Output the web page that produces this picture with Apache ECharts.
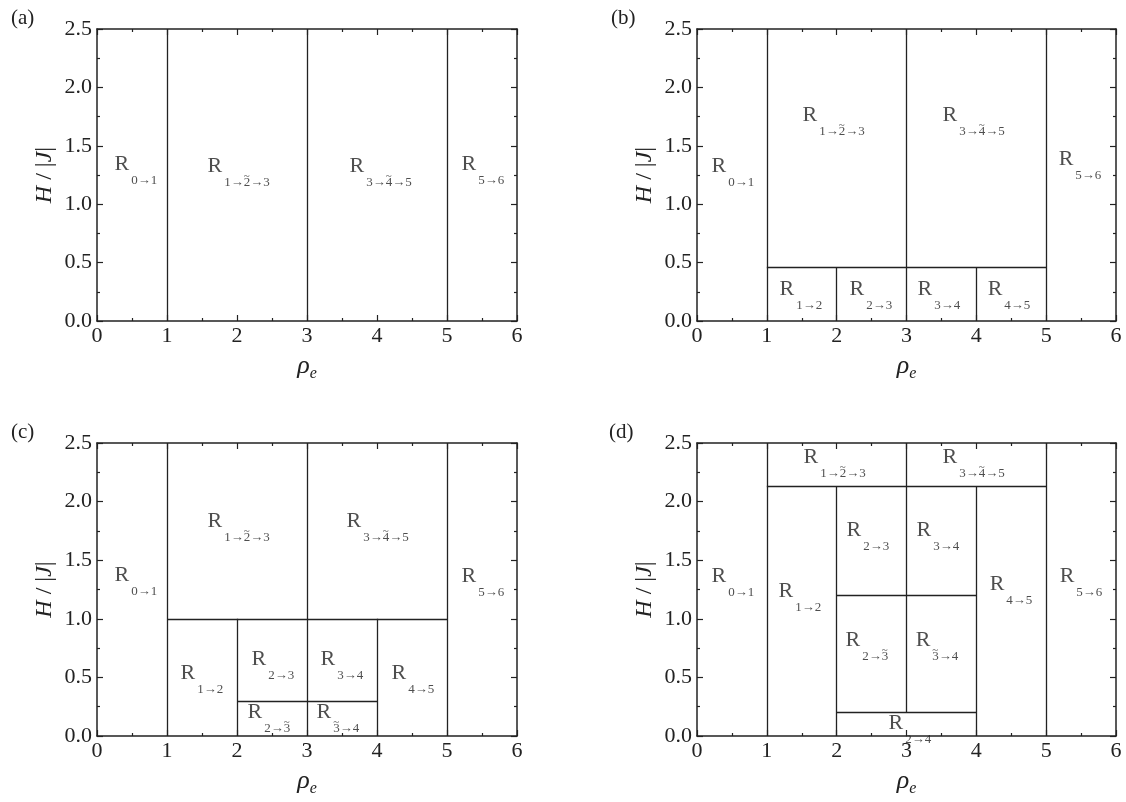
<!DOCTYPE html>
<html><head><meta charset="utf-8">
<script src="https://cdn.jsdelivr.net/npm/echarts@6/dist/echarts.min.js"></script>
<style>html,body{margin:0;padding:0;background:#fff}#c{width:1126px;height:802px}</style>
</head><body><div id="c"></div>
<script>
// ---- data ----
const xTickLabels = ['0','1','2','3','4','5','6'];
const yTickLabels = ['0.0','0.5','1.0','1.5','2.0','2.5'];
const panelNames = ['(a)','(b)','(c)','(d)'];

// vertical boundaries: [rho, H0, H1]; horizontal boundaries: [H, rho0, rho1]
const vLinesA = [[1,0,2.5],[3,0,2.5],[5,0,2.5]];
const hLinesA = [];
const vLinesB = [[1,0,2.5],[3,0,2.5],[5,0,2.5],[2,0,0.46],[4,0,0.46]];
const hLinesB = [[0.46,1,5]];
const vLinesC = [[1,0,2.5],[3,0,2.5],[5,0,2.5],[2,0,1.0],[4,0,1.0]];
const hLinesC = [[1.0,1,5],[0.3,2,4]];
const vLinesD = [[1,0,2.5],[5,0,2.5],[3,0.2,2.5],[2,0,2.13],[4,0,2.13]];
const hLinesD = [[2.13,1,5],[1.2,2,4],[0.2,2,4]];

// region labels: [rho, H, subscript]  ('~' after a digit = tilde over that digit)
const labelsA = [[0.257,1.396,'0→1'],[1.586,1.378,'1→2~→3'],[3.614,1.378,'3→4~→5'],[5.214,1.396,'5→6']];
const labelsB = [[0.215,1.378,'0→1'],[1.519,1.815,'1→2~→3'],[3.524,1.815,'3→4~→5'],[5.186,1.438,'5→6'],
  [1.189,0.325,'1→2'],[2.192,0.325,'2→3'],[3.166,0.325,'3→4'],[4.169,0.325,'4→5']];
const labelsC = [[0.257,1.425,'0→1'],[1.586,1.886,'1→2~→3'],[3.571,1.886,'3→4~→5'],[5.214,1.416,'5→6'],
  [1.2,0.589,'1→2'],[2.214,0.708,'2→3'],[3.2,0.708,'3→4'],[4.214,0.589,'4→5'],
  [2.157,0.256,'2→3~'],[3.143,0.256,'3~→4']];
const labelsD = [[0.215,1.416,'0→1'],[1.533,2.432,'1→2~→3'],[3.524,2.432,'3→4~→5'],[5.2,1.416,'5→6'],
  [1.175,1.288,'1→2'],[4.198,1.348,'4→5'],[2.149,1.809,'2→3'],[3.152,1.809,'3→4'],
  [2.135,0.870,'2→3~'],[3.138,0.870,'3~→4'],[2.751,0.162,'2→4']];

// ---- layout / style ----
const FONT = 'Liberation Serif';
const INK = '#222';
const grids = [
  {left:97, top:29, width:420, height:292},
  {left:697, top:29, width:419, height:292},
  {left:97, top:443, width:420, height:293},
  {left:697, top:443, width:419, height:293}
];
const panelPos = [[6,3],[606,3],[6,417],[604,417]];
const panels = [
  [vLinesA,hLinesA,labelsA],[vLinesB,hLinesB,labelsB],
  [vLinesC,hLinesC,labelsC],[vLinesD,hLinesD,labelsD]
];

const axisLine = {show:true, onZero:false, lineStyle:{color:INK, width:1.5}};
const tick = {show:true, inside:true, length:6, lineStyle:{color:INK, width:1.2}};
const minor = {show:true, splitNumber:2, length:3, lineStyle:{color:INK, width:1.2}};
const lblStyle = {fontFamily:FONT, fontSize:22, color:INK};

function subRich(s) {
  // turn "1→2~→3" into rich tokens, tilde drawn over the preceding digit
  let out = '';
  const chars = Array.from(s);
  for (let k = 0; k < chars.length; k++) {
    const c = chars[k];
    if (c === '~') continue;
    if (chars[k+1] === '~') out += '{t|~}';
    out += '{s|' + c + '}';
  }
  return out;
}

const xAxes = [], yAxes = [], series = [], titles = [];
grids.forEach((g, i) => {
  xAxes.push({gridIndex:i, type:'value', min:0, max:6, interval:1, position:'bottom',
    axisLine, axisTick:tick, minorTick:minor, splitLine:{show:false},
    axisLabel:Object.assign({margin:4, formatter:v => xTickLabels[Math.round(v)]}, lblStyle),
    name:'{r|ρ}{e|e}', nameLocation:'middle', nameGap:32,
    nameTextStyle:{rich:{
      r:{fontFamily:FONT, fontStyle:'italic', fontSize:26, lineHeight:26, color:INK, verticalAlign:'top'},
      e:{fontFamily:FONT, fontStyle:'italic', fontSize:16, lineHeight:16, color:INK, verticalAlign:'top', padding:[13,0,0,0]}
    }}});
  xAxes.push({gridIndex:i, type:'value', min:0, max:6, interval:1, position:'top',
    axisLine, axisTick:tick, minorTick:minor, splitLine:{show:false}, axisLabel:{show:false}});
  yAxes.push({gridIndex:i, type:'value', min:0, max:2.5, interval:0.5, position:'left',
    axisLine, axisTick:tick, minorTick:minor, splitLine:{show:false},
    axisLabel:Object.assign({margin:5, formatter:v => yTickLabels[Math.round(v*2)]}, lblStyle),
    name:'{i|H} / |{i|J}|', nameLocation:'middle', nameGap:40, nameRotate:90,
    nameTextStyle:{fontFamily:FONT, fontSize:24, color:INK,
      rich:{i:{fontFamily:FONT, fontStyle:'italic', fontSize:24, color:INK}}}});
  yAxes.push({gridIndex:i, type:'value', min:0, max:2.5, interval:0.5, position:'right',
    axisLine, axisTick:tick, minorTick:minor, splitLine:{show:false}, axisLabel:{show:false}});

  const [vL, hL, labs] = panels[i];
  const segs = vL.map(v => ({coords:[[v[0],v[1]],[v[0],v[2]]]}))
    .concat(hL.map(h => ({coords:[[h[1],h[0]],[h[2],h[0]]]})));
  series.push({type:'lines', coordinateSystem:'cartesian2d', xAxisIndex:2*i, yAxisIndex:2*i,
    silent:true, lineStyle:{color:INK, width:1.3, opacity:1}, data:segs, z:3});
  series.push({type:'scatter', xAxisIndex:2*i, yAxisIndex:2*i, symbolSize:1,
    itemStyle:{color:'rgba(0,0,0,0)'}, silent:true, data:labs, z:4,
    label:{show:true, position:[0,0], offset:[0,-4], align:'left', verticalAlign:'top',
      formatter:p => '{r|R}' + subRich(p.data[2]),
      rich:{
        r:{fontFamily:FONT, fontSize:22, lineHeight:22, color:INK, verticalAlign:'top', padding:[0,2,0,0]},
        s:{fontFamily:FONT, fontSize:13, lineHeight:13, color:INK, verticalAlign:'top', padding:[21,0,0,0]},
        t:{fontFamily:FONT, fontSize:11, lineHeight:11, color:INK, verticalAlign:'top', padding:[15,0,0,0], width:0, align:'left'}
      }}});
  titles.push({text:panelNames[i], left:panelPos[i][0], top:panelPos[i][1],
    textStyle:{fontFamily:FONT, fontSize:21, fontWeight:'normal', color:INK}});
});

const chart = echarts.init(document.getElementById('c'), null, {renderer:'canvas'});
chart.setOption({
  backgroundColor:'#fff', animation:false,
  title:titles, grid:grids, xAxis:xAxes, yAxis:yAxes, series
});
</script></body></html>
